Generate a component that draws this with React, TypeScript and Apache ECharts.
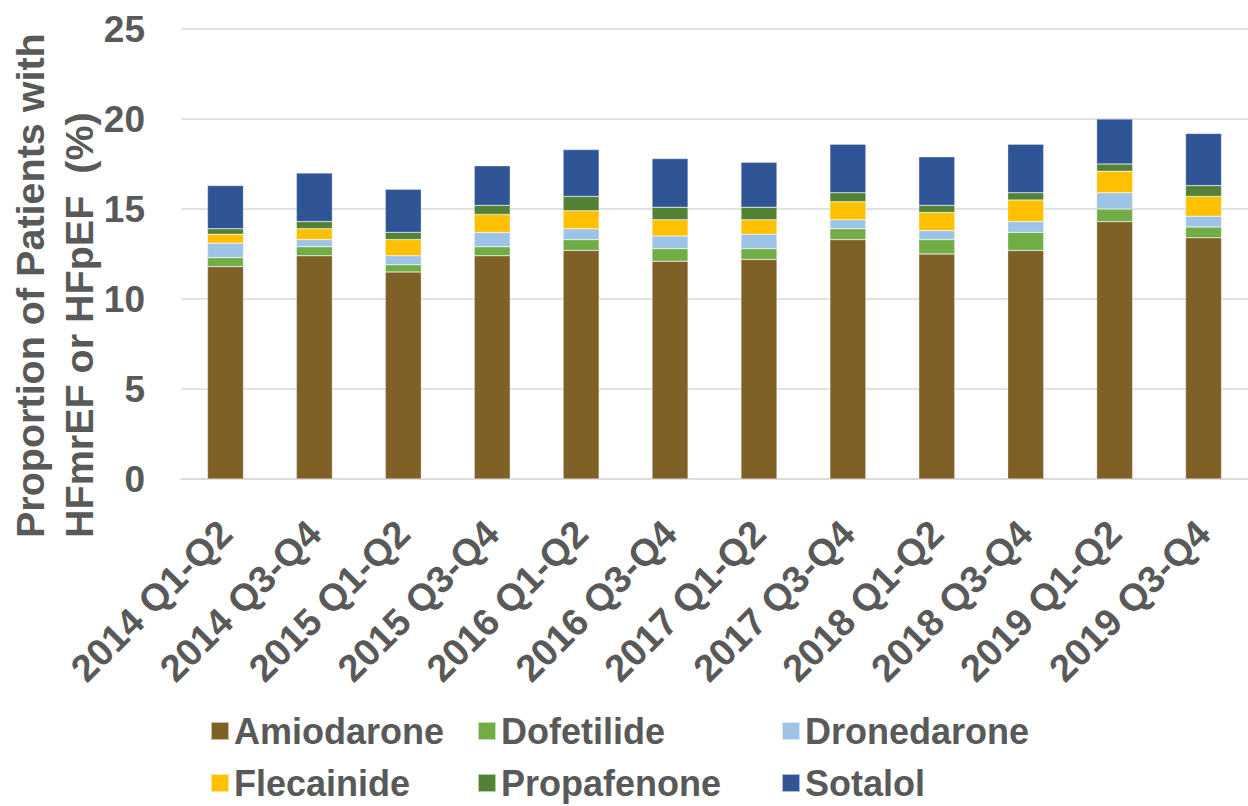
import React, { useEffect, useRef } from "react";
import * as echarts from "echarts";

const categories = [
  "2014 Q1-Q2", "2014 Q3-Q4", "2015 Q1-Q2", "2015 Q3-Q4", "2016 Q1-Q2", "2016 Q3-Q4",
  "2017 Q1-Q2", "2017 Q3-Q4", "2018 Q1-Q2", "2018 Q3-Q4", "2019 Q1-Q2", "2019 Q3-Q4",
];
const amiodarone = [11.8, 12.4, 11.5, 12.4, 12.7, 12.1, 12.2, 13.3, 12.5, 12.7, 14.3, 13.4];
const dofetilide = [0.5, 0.5, 0.4, 0.5, 0.6, 0.7, 0.6, 0.6, 0.8, 1.0, 0.7, 0.6];
const dronedarone = [0.8, 0.4, 0.5, 0.8, 0.6, 0.7, 0.8, 0.5, 0.5, 0.6, 0.9, 0.6];
const flecainide = [0.5, 0.6, 0.9, 1.0, 1.0, 0.9, 0.8, 1.0, 1.0, 1.2, 1.2, 1.1];
const propafenone = [0.3, 0.4, 0.4, 0.5, 0.8, 0.7, 0.7, 0.5, 0.4, 0.4, 0.4, 0.6];
const sotalol = [2.4, 2.7, 2.4, 2.2, 2.6, 2.7, 2.5, 2.7, 2.7, 2.7, 2.5, 2.9];

const seriesDefs = [
  { name: "Amiodarone", data: amiodarone, color: "#7F6027" },
  { name: "Dofetilide", data: dofetilide, color: "#70AD47" },
  { name: "Dronedarone", data: dronedarone, color: "#9DC3E6" },
  { name: "Flecainide", data: flecainide, color: "#FFC000" },
  { name: "Propafenone", data: propafenone, color: "#538135" },
  { name: "Sotalol", data: sotalol, color: "#2F5597" },
];

const yTitle1 = "Proportion of Patients with";
const yTitle2 = "HFmrEF or HFpEF  (%)";

const FONT = "'Liberation Sans', Arial, sans-serif";
const TXT = "#595959";

export default function App() {
  const ref = useRef<HTMLDivElement>(null);
  useEffect(() => {
    if (!ref.current) return;
    const chart = echarts.init(ref.current, undefined, { renderer: "svg" });
    const legendText = {
      fontFamily: FONT,
      fontWeight: "bold",
      fontSize: 36,
      color: TXT,
    };
    const legendCommon = {
      orient: "horizontal",
      itemWidth: 18,
      itemHeight: 18,
      icon: "rect",
      textStyle: legendText,
      padding: 0,
      selectedMode: false,
    };
    const colLeft = [210, 477, 781];
    const rowTop = [713, 765];
    const legends = seriesDefs.map((s, i) => ({
      ...legendCommon,
      left: colLeft[i % 3],
      top: rowTop[Math.floor(i / 3)],
      data: [s.name],
    }));
    chart.setOption({
      animation: false,
      backgroundColor: "#ffffff",
      grid: { left: 181, top: 29, width: 1075, height: 450, containLabel: false },
      legend: legends,
      xAxis: {
        type: "category",
        data: categories,
        axisTick: { show: false },
        axisLine: { lineStyle: { color: "#d9d9d9", width: 1.5 } },
        axisLabel: {
          rotate: 45,
          interval: 0,
          margin: 48,
          fontFamily: FONT,
          fontWeight: "bold",
          fontSize: 38,
          color: TXT,
        },
      },
      yAxis: {
        type: "value",
        min: 0,
        max: 25,
        interval: 5,
        axisLine: { show: false },
        axisTick: { show: false },
        splitLine: { lineStyle: { color: "#d9d9d9", width: 1.5 } },
        axisLabel: {
          margin: 36,
          fontFamily: FONT,
          fontWeight: "bold",
          fontSize: 37,
          color: TXT,
        },
      },
      graphic: [
        {
          type: "text",
          x: 30,
          y: 538,
          rotation: Math.PI / 2,
          style: {
            text: yTitle1,
            fontFamily: FONT,
            fontWeight: "bold",
            fontSize: 39.5,
            fill: TXT,
            textAlign: "left",
            textVerticalAlign: "middle",
          },
        },
        {
          type: "text",
          x: 79,
          y: 538,
          rotation: Math.PI / 2,
          style: {
            text: yTitle2,
            fontFamily: FONT,
            fontWeight: "bold",
            fontSize: 39.5,
            fill: TXT,
            textAlign: "left",
            textVerticalAlign: "middle",
          },
        },
      ],
      series: seriesDefs.map((s) => ({
        name: s.name,
        type: "bar",
        stack: "total",
        barWidth: 36,
        data: s.data,
        itemStyle: { color: s.color, borderColor: "rgba(255,255,255,0.6)", borderWidth: 0.5 },
      })),
    });
    return () => chart.dispose();
  }, []);
  return (
    <div
      ref={ref}
      style={{ position: "absolute", left: 0, top: 0, width: 1248, height: 806 }}
    />
  );
}
